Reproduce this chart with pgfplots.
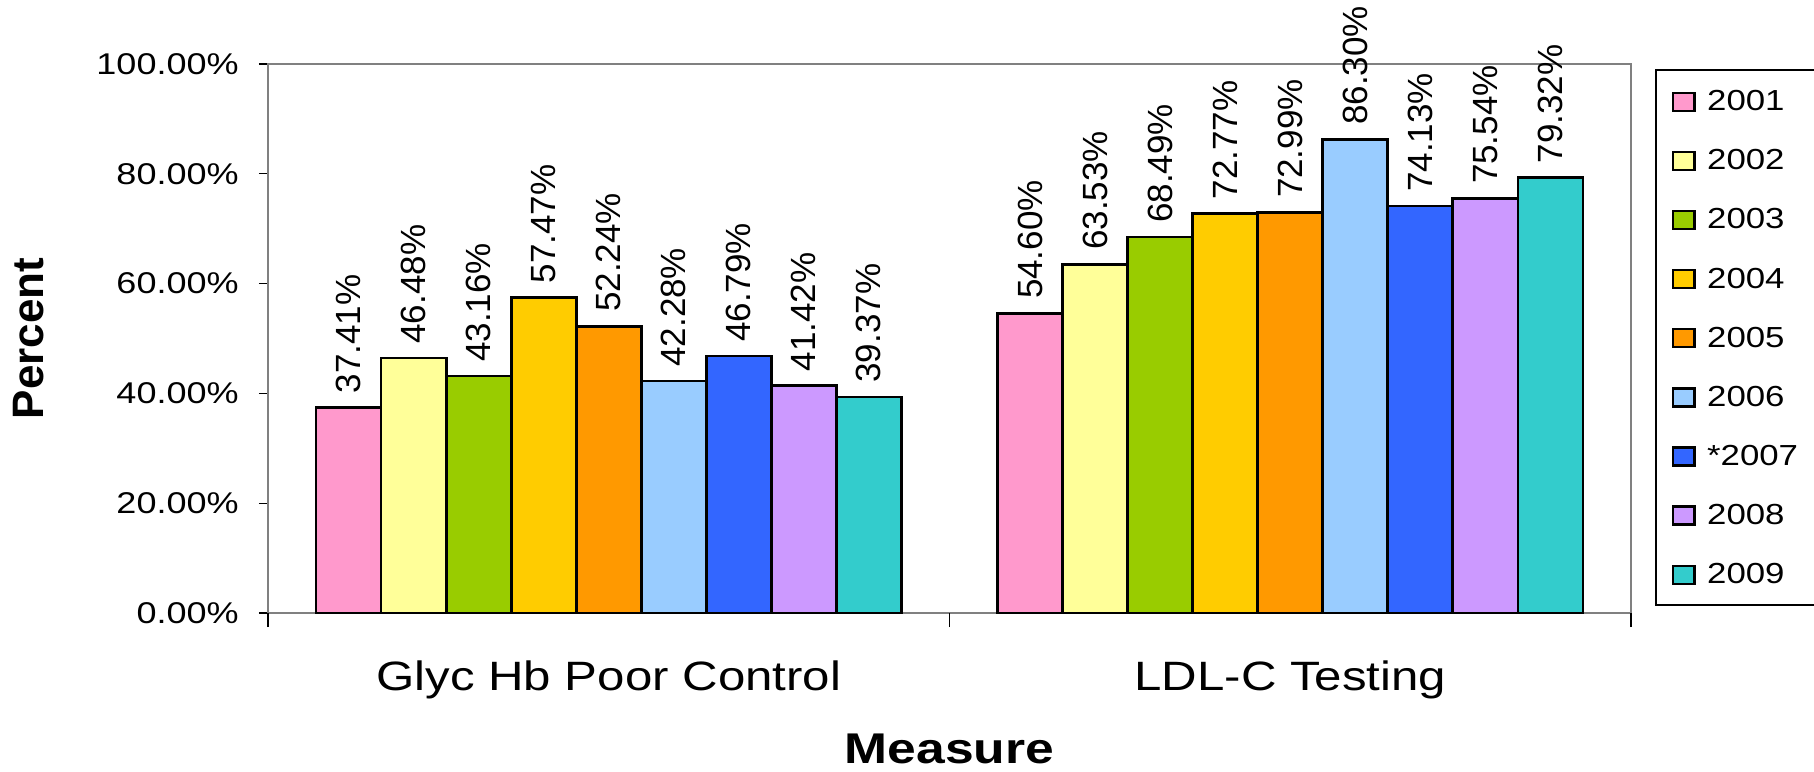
\documentclass[border=0pt]{standalone}
\usepackage{fontspec}
\setmainfont{Liberation Sans}
\newfontfamily\widefont{Liberation Sans}[FakeStretch=1.2]
\usepackage{pgfplots}
\pgfplotsset{compat=1.18}

\definecolor{c2001}{HTML}{FF99CC}
\definecolor{c2002}{HTML}{FFFF99}
\definecolor{c2003}{HTML}{99CC00}
\definecolor{c2004}{HTML}{FFCC00}
\definecolor{c2005}{HTML}{FF9900}
\definecolor{c2006}{HTML}{99CCFF}
\definecolor{c2007}{HTML}{3366FF}
\definecolor{c2008}{HTML}{CC99FF}
\definecolor{c2009}{HTML}{33CCCC}

\begin{document}
\begin{tikzpicture}
\begin{axis}[
    scale only axis,
    width=681.5pt, height=274.5pt,
    ybar=0pt, bar width=0.0954,
    xmin=-0.5, xmax=1.5, ymin=0, ymax=100,
    clip=false,
    axis line style={draw=gray, line width=0.9pt},
    tick align=outside,
    xtick pos=bottom, ytick pos=left,
    major tick length=4.5pt,
    ytick={0,20,40,60,80,100},
    yticklabels={0.00\%,20.00\%,40.00\%,60.00\%,80.00\%,100.00\%},
    ytick style={draw=black, line width=0.6pt},
    yticklabel style={font=\widefont\fontsize{15}{18}\selectfont, anchor=east, inner sep=0pt, xshift=-10pt},
    xtick={0,1},
    xticklabels={Glyc Hb Poor Control, LDL-C Testing},
    xtick style={draw=none},
    xticklabel style={font=\widefont\fontsize{20.5}{25}\selectfont, anchor=base, inner sep=0pt, yshift=-34pt},
    extra x ticks={-0.5,0.5,1.5},
    extra x tick labels={},
    extra x tick style={xtick style={draw=black, line width=0.6pt}, major tick length=7pt},
    xlabel={Measure},
    xlabel style={font=\widefont\bfseries\fontsize{21.5}{25}\selectfont, at={(axis description cs:0.5,0)}, anchor=base, yshift=-75pt},
    ylabel={Percent},
    ylabel style={font=\bfseries\fontsize{22}{26}\selectfont, at={([xshift=-119.5pt]axis description cs:0,0.5)}, anchor=center},
    every axis plot/.append style={draw=black, line width=1.3pt},
    nodes near coords={\pgfmathprintnumber[fixed,fixed zerofill,precision=2,assume math mode=true]{\pgfplotspointmeta}\%},
    every node near coord/.append style={font=\fontsize{17.5}{20}\selectfont, rotate=90, anchor=west, inner xsep=6.5pt, inner ysep=0pt, black},
    legend image code/.code={\draw[#1, line width=1.2pt] (0pt,-4.8pt) rectangle (10.8pt,4.2pt);},
    legend style={draw=black, line width=0.75pt, at={(1,1)}, anchor=north west, xshift=12pt, yshift=-2.65pt,
        font=\widefont\fontsize{14.5}{16}\selectfont, inner xsep=8pt, inner ysep=9.3pt, row sep=17.06pt,
        nodes={text height=9.5pt, text depth=0pt, inner sep=1.5pt}},
    legend cell align=left,
    /tikz/every odd column/.append style={column sep=4.2pt},
]
\addplot[fill=c2001] coordinates {(0,37.41) (1,54.60)};
\addplot[fill=c2002] coordinates {(0,46.48) (1,63.53)};
\addplot[fill=c2003] coordinates {(0,43.16) (1,68.49)};
\addplot[fill=c2004] coordinates {(0,57.47) (1,72.77)};
\addplot[fill=c2005] coordinates {(0,52.24) (1,72.99)};
\addplot[fill=c2006] coordinates {(0,42.28) (1,86.30)};
\addplot[fill=c2007] coordinates {(0,46.79) (1,74.13)};
\addplot[fill=c2008] coordinates {(0,41.42) (1,75.54)};
\addplot[fill=c2009] coordinates {(0,39.37) (1,79.32)};
\legend{2001,2002,2003,2004,2005,2006,*2007,2008,2009}
\coordinate (bl) at (rel axis cs:0,0);
\coordinate (tr) at (rel axis cs:1,1);
\end{axis}
\pgfresetboundingbox
\path ([shift={(-134pt,-79pt)}]bl) rectangle ([shift={(91.5pt,32pt)}]tr);
\end{tikzpicture}
\end{document}
